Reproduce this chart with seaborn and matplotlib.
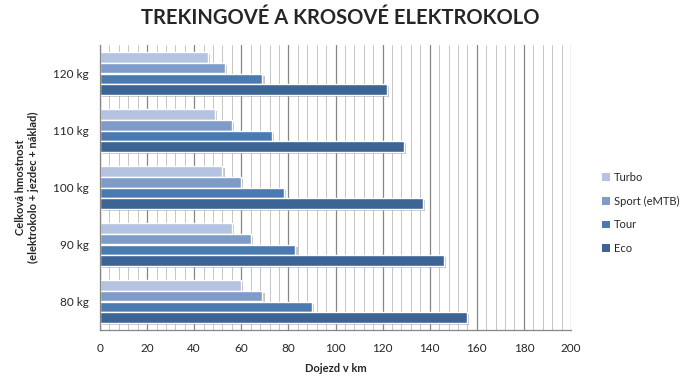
import matplotlib
matplotlib.use('Agg')
import matplotlib.pyplot as plt
import matplotlib.patheffects as pe
from matplotlib.patches import Patch
from matplotlib.ticker import MultipleLocator, FixedLocator
import pandas as pd
import seaborn as sns

# data
hmotnost = ['120 kg', '110 kg', '100 kg', '90 kg', '80 kg']
rezimy = ['Turbo', 'Sport (eMTB)', 'Tour', 'Eco']
turbo = [46, 49, 52, 56, 60]
sport = [53, 56, 60, 64, 69]
tour = [69, 73, 78, 83, 90]
eco = [122, 129, 137, 146, 156]
barvy = ['#b4c3df', '#7f9cc9', '#4a7ab0', '#3c6595']

df = pd.DataFrame({'hmotnost': hmotnost, 'Turbo': turbo, 'Sport (eMTB)': sport,
                   'Tour': tour, 'Eco': eco})
df = df.melt(id_vars='hmotnost', var_name='rezim', value_name='dojezd')

sns.set_style('white')
plt.rcParams['font.family'] = ['Lato', 'DejaVu Sans']

fig = plt.figure(figsize=(6.87, 3.79), dpi=100)
ax = fig.add_axes([100/687, 1 - 330/379, 471/687, 285/379])

sns.barplot(data=df, x='dojezd', y='hmotnost', hue='rezim', order=hmotnost,
            hue_order=rezimy, palette=barvy, orient='h', width=0.74, saturation=1,
            edgecolor='white', linewidth=1, ax=ax, legend=False)

for p in ax.patches:
    p.set_path_effects([pe.SimplePatchShadow(offset=(1.5, -1.5), shadow_rgbFace='#888888', alpha=0.5),
                        pe.Normal()])

ax.set_xlim(0, 200)
ax.set_ylim(4.5, -0.5)
ax.xaxis.set_major_locator(MultipleLocator(20))
ax.xaxis.set_minor_locator(MultipleLocator(4))
ax.yaxis.set_minor_locator(FixedLocator([-0.5, 0.5, 1.5, 2.5, 3.5, 4.5]))
ax.set_axisbelow(True)
ax.xaxis.grid(True, which='major', color='#868686', lw=0.9)
ax.xaxis.grid(True, which='minor', color='#bcbcbc', lw=0.6)
ax.yaxis.grid(False)

for s in ['top', 'right']:
    ax.spines[s].set_visible(False)
for s in ['left', 'bottom']:
    ax.spines[s].set_color('#868686')
    ax.spines[s].set_linewidth(0.9)

ax.tick_params(axis='x', which='major', length=4, color='#868686', labelsize=8.5, pad=5)
ax.tick_params(axis='x', which='minor', length=2, color='#868686')
ax.tick_params(axis='y', which='major', length=0, labelsize=8.5, pad=8)
ax.tick_params(axis='y', which='minor', length=4, color='#868686')

ax.set_xlabel('Dojezd v km', fontsize=8, fontweight='bold', labelpad=7)
ax.set_ylabel('Celková hmostnost\n(elektrokolo + jezdec + náklad)', fontsize=8,
              fontweight='bold', labelpad=10)

handles = [Patch(facecolor=c, edgecolor='none', label=r) for c, r in zip(barvy, rezimy)]
fig.legend(handles=handles, loc='center left', bbox_to_anchor=(592/687, 1 - 213/379),
           frameon=False, fontsize=8, handlelength=0.7, handleheight=0.7,
           handletextpad=0.4, labelspacing=1.15)

fig.text(340/687, 1 - 18/379, 'TREKINGOVÉ A KROSOVÉ ELEKTROKOLO', ha='center', va='center',
         fontsize=14.5, fontweight='bold')

fig.savefig('out.png', dpi=100)
